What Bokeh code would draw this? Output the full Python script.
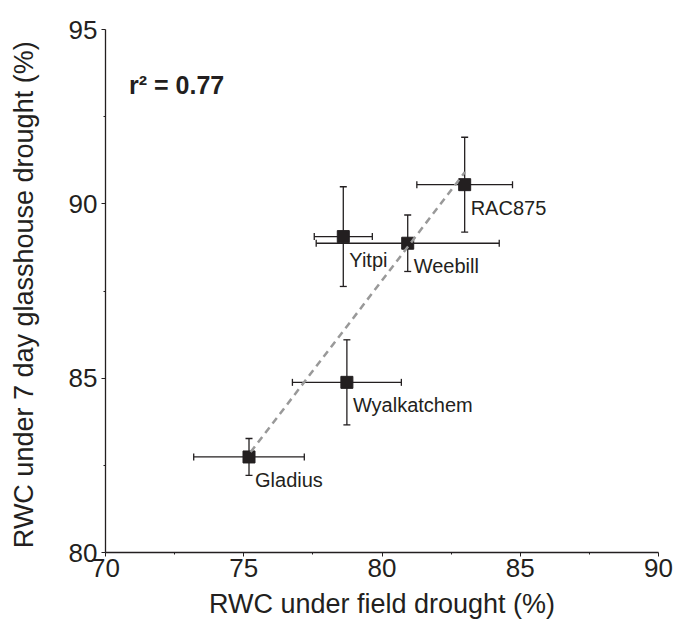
from bokeh.plotting import figure
from bokeh.models import ColumnDataSource, Whisker, TeeHead, Range1d, Label, FixedTicker
from bokeh.core.properties import value
from bokeh.embed import file_html
from bokeh.resources import INLINE

# ---- data ----
genotype = ["Gladius", "Wyalkatchem", "Yitpi", "Weebill", "RAC875"]
field = [75.19, 78.73, 78.60, 80.93, 82.99]
field_err = [2.00, 1.97, 1.05, 3.31, 1.73]
glass = [82.74, 84.88, 89.06, 88.87, 90.55]
glass_err = [0.53, 1.22, 1.43, 0.81, 1.36]
fit_x = [75.25, 83.0]
fit_y = [82.88, 90.91]
x_ticks = [70, 75, 80, 85, 90]
y_ticks = [80, 85, 90, 95]
r2_text = "r\u00b2 = 0.77"

TXT = "#231f20"
FONT = "Liberation Sans"

src = ColumnDataSource(dict(
    name=genotype, x=field, y=glass,
    xlo=[a - b for a, b in zip(field, field_err)],
    xhi=[a + b for a, b in zip(field, field_err)],
    ylo=[a - b for a, b in zip(glass, glass_err)],
    yhi=[a + b for a, b in zip(glass, glass_err)],
))

p = figure(width=676, height=627, output_backend="svg", toolbar_location=None,
           x_range=Range1d(70, 90), y_range=Range1d(80, 95),
           min_border_left=105, min_border_right=18,
           min_border_top=29, min_border_bottom=75)
p.outline_line_color = None
p.grid.visible = False
p.background_fill_color = "white"
p.border_fill_color = "white"

for ax in (p.xaxis[0], p.yaxis[0]):
    ax.axis_line_color = TXT
    ax.axis_line_width = 1.3
    ax.major_tick_line_color = TXT
    ax.minor_tick_line_color = TXT
    ax.major_tick_in = 0
    ax.major_tick_out = 4
    ax.minor_tick_in = 0
    ax.minor_tick_out = 2
    ax.major_label_text_font = FONT
    ax.major_label_text_font_size = "26px"
    ax.major_label_text_color = TXT
    ax.axis_label_text_font = FONT
    ax.axis_label_text_font_size = "27px"
    ax.axis_label_text_font_style = "normal"
    ax.axis_label_text_color = TXT

p.xaxis.ticker = FixedTicker(ticks=x_ticks, minor_ticks=[72.5, 77.5, 82.5, 87.5])
p.yaxis.ticker = FixedTicker(ticks=y_ticks, minor_ticks=[82.5, 87.5, 92.5])
p.xaxis.axis_label = "RWC under field drought (%)"
p.yaxis.axis_label = "RWC  under 7 day glasshouse drought (%)"
p.xaxis.major_label_standoff = 2
p.xaxis.axis_label_standoff = 9
p.yaxis.major_label_standoff = 4
p.yaxis.axis_label_standoff = 27

# error bars
wy = Whisker(source=src, base="x", upper="yhi", lower="ylo", dimension="height",
             line_color=TXT, line_width=1.3, level="underlay",
             upper_head=TeeHead(size=7, line_color=TXT, line_width=1.3),
             lower_head=TeeHead(size=7, line_color=TXT, line_width=1.3))
wx = Whisker(source=src, base="y", upper="xhi", lower="xlo", dimension="width",
             line_color=TXT, line_width=1.3, level="underlay",
             upper_head=TeeHead(size=7, line_color=TXT, line_width=1.3),
             lower_head=TeeHead(size=7, line_color=TXT, line_width=1.3))
p.add_layout(wy)
p.add_layout(wx)

p.scatter("x", "y", source=src, marker="square", size=12,
          fill_color=TXT, line_color=TXT)

p.line(fit_x, fit_y, line_color="#999999", line_width=2.5, line_dash="7 5")

p.text("x", "y", text="name", source=src, x_offset=6, y_offset=12,
       text_baseline="top", text_align="left", text_font=value(FONT),
       text_font_size=value("20px"), text_color=TXT)

p.add_layout(Label(x=70.85, y=93.4, text=r2_text, text_font=FONT,
                   text_font_size="25px", text_font_style="bold",
                   text_color=TXT, text_baseline="middle"))

open("out.html", "w").write(file_html(p, INLINE))
